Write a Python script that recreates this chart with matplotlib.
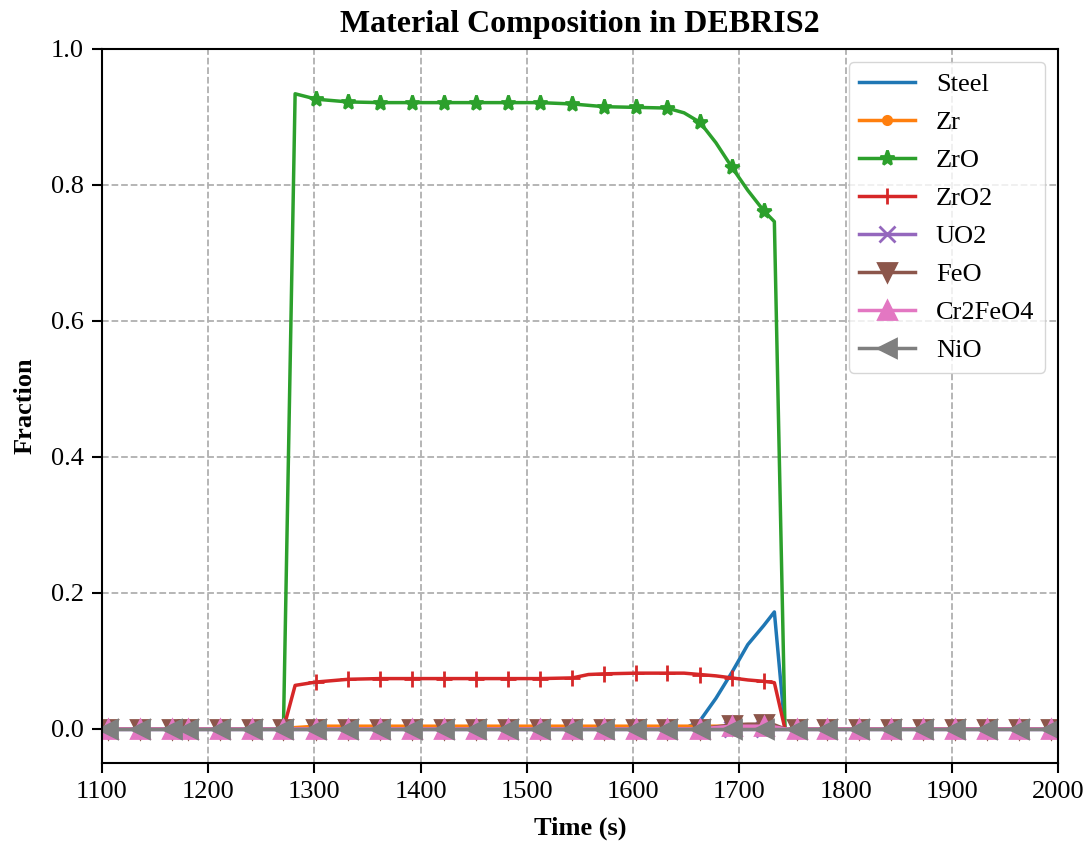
import numpy as np
import matplotlib
matplotlib.use("Agg")
import matplotlib.pyplot as plt

plt.rcParams['font.family'] = ['Liberation Serif', 'DejaVu Serif']

# ---- data ----
time = [1100, 1106, 1136, 1166, 1181, 1211, 1241, 1271, 1282, 1302,
        1332, 1362, 1392, 1422, 1452, 1482, 1512, 1543, 1558, 1573,
        1603, 1632, 1648, 1663, 1678, 1693, 1708, 1723, 1733, 1743,
        1754, 1783, 1813, 1843, 1873, 1903, 1933, 1963, 1993, 2000]
# times at which markers were drawn
mark_times = [1106, 1136, 1166, 1181, 1211, 1241, 1271, 1302, 1332, 1362,
              1392, 1422, 1452, 1482, 1512, 1543, 1573, 1603, 1632, 1663,
              1693, 1723, 1754, 1783, 1813, 1843, 1873, 1903, 1933, 1963, 1993]

steel = [0.0] * 23 + [0.012, 0.045, 0.083, 0.124, 0.152, 0.172] + [0.0] * 11
zr = [0.0] * 8 + [0.002] + [0.004] * 20 + [0.0] * 11
zro = ([0.0] * 8 +
       [0.934, 0.926, 0.922, 0.921, 0.921, 0.921, 0.921, 0.921, 0.921,
        0.919, 0.917, 0.915, 0.914, 0.913, 0.906, 0.892, 0.862, 0.826,
        0.792, 0.762, 0.746] + [0.0] * 11)
zro2 = ([0.0] * 8 +
        [0.064, 0.069, 0.073, 0.074, 0.074, 0.074, 0.074, 0.074, 0.074,
         0.075, 0.080, 0.081, 0.082, 0.082, 0.082, 0.080, 0.078, 0.075,
         0.072, 0.070, 0.068] + [0.0] * 11)
uo2 = [0.0] * 40
feo = [0.0] * 24 + [0.003, 0.006, 0.007, 0.007, 0.006] + [0.0] * 11
cr2feo4 = [0.0] * 24 + [0.002, 0.004, 0.004, 0.004, 0.003] + [0.0] * 11
nio = [0.0] * 40

# name, values, marker, marker size
series = [("Steel", steel, None, 0), ("Zr", zr, "o", 6), ("ZrO", zro, "*", 11),
          ("ZrO2", zro2, "+", 12), ("UO2", uo2, "x", 11), ("FeO", feo, "v", 13),
          ("Cr2FeO4", cr2feo4, "^", 13), ("NiO", nio, "<", 13)]

marks = [i for i, t in enumerate(time) if t in mark_times]

fig = plt.figure(figsize=(10.88, 8.43), dpi=100)
ax = fig.add_axes([0.0935, 0.095, 0.879, 0.847])

for name, vals, mk, ms in series:
    if mk is None:
        ax.plot(time, vals, linewidth=2.5, label=name)
    else:
        ax.plot(time, vals, marker=mk, markevery=marks, markersize=ms,
                markeredgewidth=2, linewidth=2.5, label=name)

ax.set_xlim(1100, 2000)
ax.set_ylim(-0.05, 1.0)
ax.set_xticks(np.arange(1100, 2001, 100))
ax.set_yticks(np.arange(0, 1.01, 0.2))
ax.set_yticklabels([f"{v:.1f}" for v in np.arange(0, 1.01, 0.2)])
ax.tick_params(labelsize=19, length=7, width=1.5, pad=6)
for sp in ax.spines.values():
    sp.set_linewidth(1.5)

ax.grid(True, linestyle='--', color='#b0b0b0', linewidth=1.3)
ax.set_xlabel("Time (s)", fontsize=19, fontweight='bold', labelpad=10)
ax.set_ylabel("Fraction", fontsize=19, fontweight='bold', labelpad=10)
ax.set_title("Material Composition in DEBRIS2", fontsize=23, fontweight='bold', pad=12)

ax.legend(loc='upper right', fontsize=19, handlelength=2.1, borderaxespad=0.5,
          labelspacing=0.55)

plt.savefig("out.png", dpi=100)
